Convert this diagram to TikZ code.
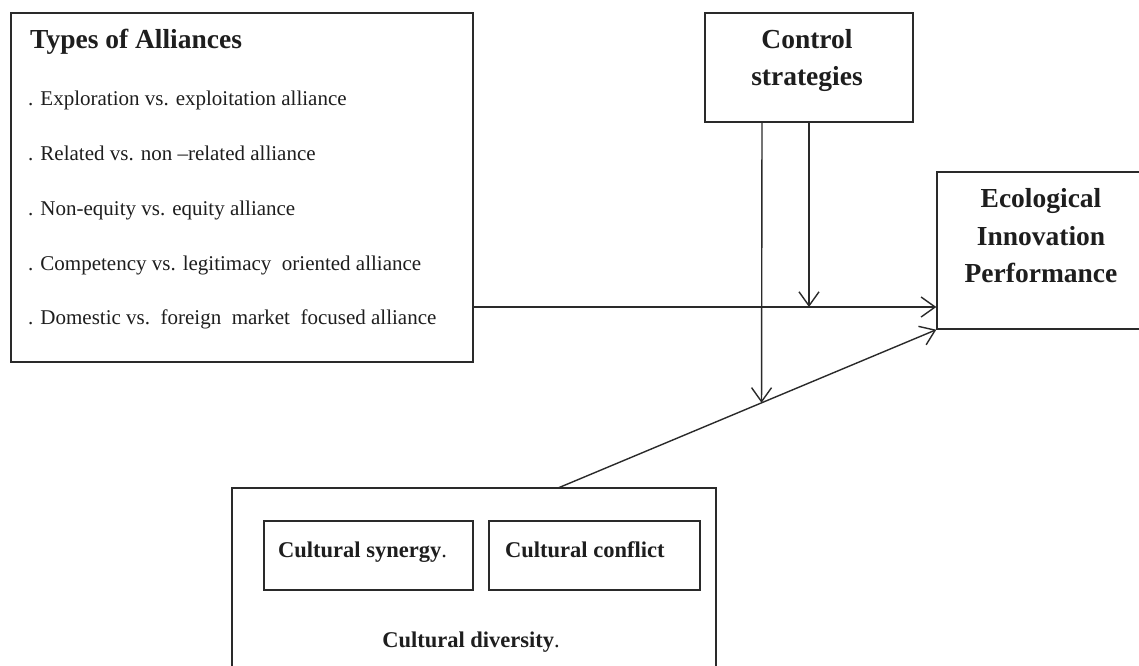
\documentclass[tikz,border=0pt]{standalone}
\usepackage{fontspec}
\setmainfont{Liberation Serif}
\usetikzlibrary{arrows.meta,calc}
\definecolor{ink}{HTML}{1E1E1E}
\definecolor{linec}{HTML}{2A2A2A}
\tikzset{
  box/.style={draw=linec, line width=1.4pt, rectangle, inner sep=0pt, fill=none},
  itemtxt/.style={inner sep=0pt, anchor=base west, text=ink, font=\fontsize{21}{25}\selectfont},
  headtxt/.style={inner sep=0pt, text=ink, font=\fontsize{27.5}{33}\selectfont\bfseries},
  culttxt/.style={inner sep=0pt, text=ink, font=\fontsize{22.5}{27}\selectfont\bfseries},
  conn/.style={draw=linec, line width=1.4pt, -{Straight Barb[length=14pt,width=20pt,line width=1.4pt]}}
}
\begin{document}
\begin{tikzpicture}[x=1pt,y=-1pt]
\useasboundingbox (0,0) rectangle (1139,665);
\clip (0,0) rectangle (1139,665);
\fill[white] (0,0) rectangle (1139,665);

% boxes
\node[box, minimum width=462pt, minimum height=349pt] (types) at (242,187.5) {};
\node[box, minimum width=208pt, minimum height=109pt] (ctrl) at (809,67.5) {};
\node[box, minimum width=223pt, minimum height=157pt] (eco) at (1048.5,250.5) {};
\node[box, minimum width=484pt, minimum height=232pt] (cult) at (474,604) {};
\node[box, minimum width=209pt, minimum height=69pt] (syn) at (368.5,555.5) {};
\node[box, minimum width=211pt, minimum height=69pt] (conf) at (594.5,555.5) {};

% texts: types of alliances
\node[headtxt, anchor=base west] (ttitle) at (30,48) {Types of Alliances};
\node[itemtxt] (t1) at (28,105) {. Exploration vs. exploitation alliance};
\node[itemtxt] (t2) at (28,160) {. Related vs. non --related alliance};
\node[itemtxt] (t3) at (28,215) {. Non-equity vs. equity alliance};
\node[itemtxt] (t4) at (28,270) {. Competency vs. legitimacy\ \ oriented alliance};
\node[itemtxt] (t5) at (28,324) {. Domestic vs.\ \ foreign\ \ market\ \ focused alliance};

% control strategies
\node[headtxt, anchor=base] (c1) at (807,48) {Control};
\node[headtxt, anchor=base] (c2) at (807,85) {strategies};

% ecological innovation performance
\node[headtxt, anchor=base] (e1) at (1041,207) {Ecological};
\node[headtxt, anchor=base] (e2) at (1041,245) {Innovation};
\node[headtxt, anchor=base] (e3) at (1041,282) {Performance};

% cultural
\node[culttxt, anchor=base west] (s1) at (278,557) {Cultural synergy\textmd{.}};
\node[culttxt, anchor=base west] (f1) at (505,557) {Cultural conflict};
\node[culttxt, anchor=base] (d1) at (471,647) {Cultural diversity\textmd{.}};

% connectors
\coordinate (hy) at (0,307);
\coordinate (v1) at (762,0);
\coordinate (v2) at (809,0);
\coordinate (dstart) at (558,488);
\coordinate (dmid) at ($(dstart)!0.538!(eco.south west)$);

\draw[conn] (types.east |- hy) -- (eco.west |- hy);
\draw[conn] (dstart) -- (eco.south west);
\draw[conn] (ctrl.south -| v1) -- (dmid);
\draw[conn] (ctrl.south -| v2) -- (v2 |- hy);
\end{tikzpicture}
\end{document}
